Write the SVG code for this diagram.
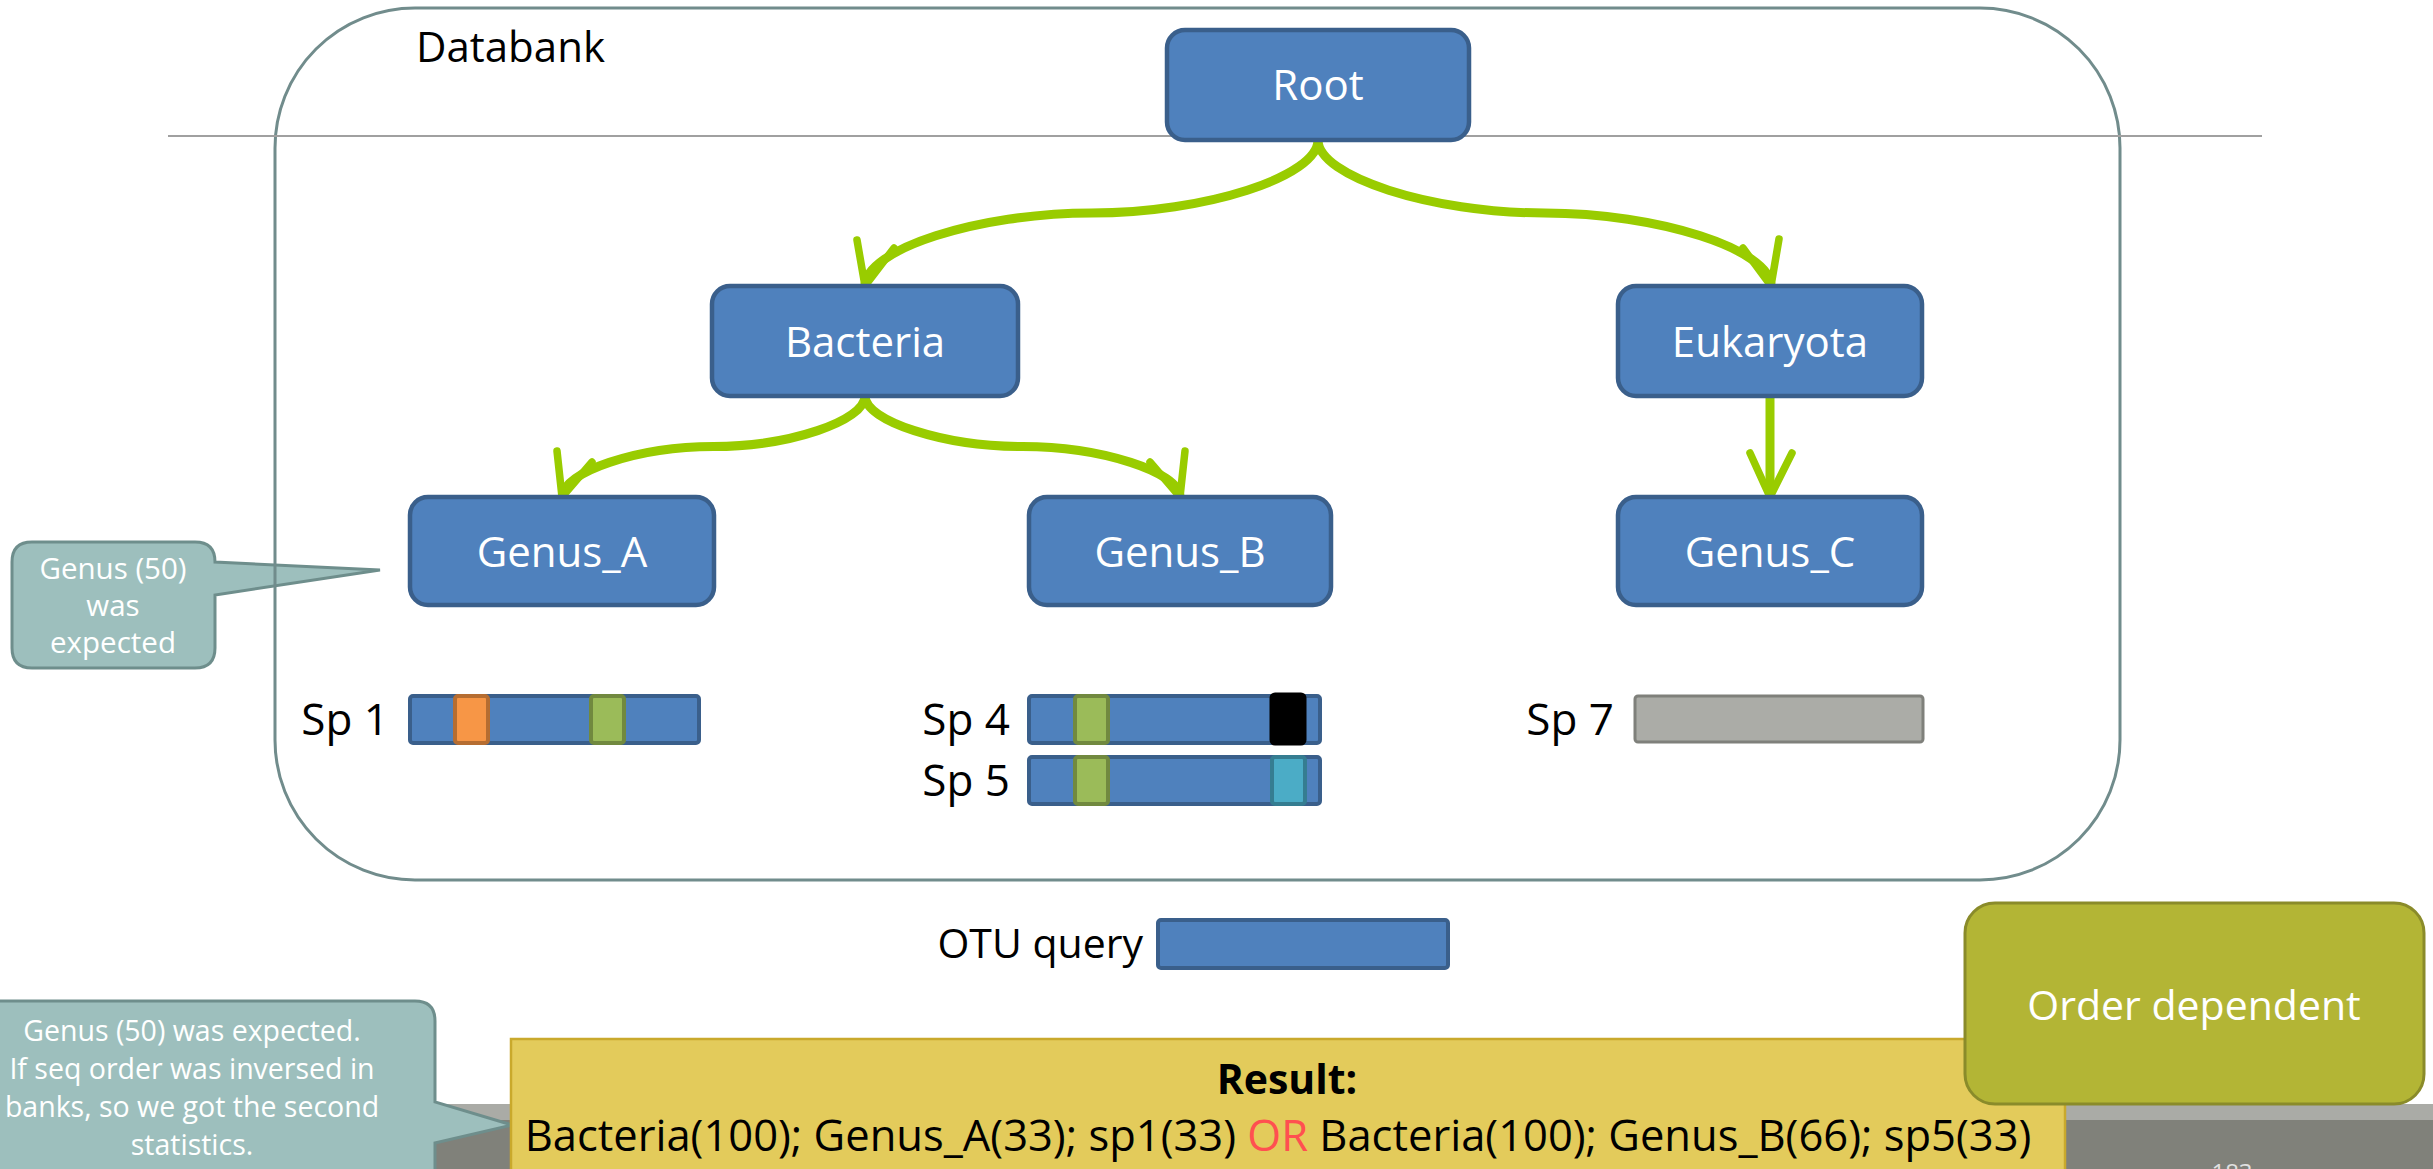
<svg xmlns="http://www.w3.org/2000/svg" width="2433" height="1169" viewBox="0 0 2433 1169">
<style>
text{font-family:"Open Sans","Liberation Sans",sans-serif}
.node rect{fill:#4F81BD;stroke:#3A5F8B;stroke-width:4.5}
.node text{fill:#FFFFFF;font-size:42px;text-anchor:middle}
.lbl{fill:#000000;font-size:44px;text-anchor:end}
.bar{fill:#4F81BD;stroke:#3A5F8B;stroke-width:4}
.orange{fill:#F79646;stroke:#B66D31;stroke-width:4}
.green{fill:#9BBB59;stroke:#71893F;stroke-width:4}
.teal{fill:#4BACC6;stroke:#357D91;stroke-width:4}
.blk{fill:#000000;stroke:#000000;stroke-width:3}
.conn{fill:none;stroke:#99CC00;stroke-width:9;stroke-linecap:round;stroke-linejoin:round}
.head{fill:none;stroke:#99CC00;stroke-width:7.5;stroke-linecap:round;stroke-linejoin:miter}
.callout{fill:#9DBFBD;stroke:#6E8E8C;stroke-width:3}
.ctext{fill:#FFFFFF;font-size:29.5px;text-anchor:middle}
.ctext2{fill:#FFFFFF;font-size:28.5px;text-anchor:middle}
</style>
<rect x="0" y="0" width="2433" height="1169" fill="#FFFFFF"/>

<g id="callout-genus">
<path class="callout" d="M 32,542 H 195 Q 215,542 215,562 L 380,570 L 215,595 V 648 Q 215,668 195,668 H 32 Q 12,668 12,648 V 562 Q 12,542 32,542 Z"/>
<text class="ctext" x="113" y="579">Genus (50)</text>
<text class="ctext" x="113" y="616">was</text>
<text class="ctext" x="113" y="653">expected</text>
</g>

<g id="databank">
<rect x="275" y="8" width="1845" height="872" rx="140" ry="140" fill="none" stroke="#718C8C" stroke-width="3"/>
<text x="416" y="62" font-size="42" fill="#000000">Databank</text>
</g>
<line id="divider" x1="168" y1="136" x2="2262" y2="136" stroke="#A0A0A0" stroke-width="2"/>

<g id="connectors">
<path class="conn" d="M 1318,140 C 1318,176.5 1205,213 1091.5,213 C 978,213 865,249.5 865,286"/>
<path class="head" d="M 857,240 L 865,286 L 894,248"/>
<path class="conn" d="M 1318,140 C 1318,176.5 1431,213 1544.5,213 C 1658,213 1771,249.5 1771,286"/>
<path class="head" d="M 1779,239 L 1771,286 L 1743,248"/>
<path class="conn" d="M 865,396 C 865,421 789,446.5 713.5,446.5 C 638,446.5 562,472 562,497"/>
<path class="head" d="M 557,451 L 562,497 L 592,462"/>
<path class="conn" d="M 865,396 C 865,421 944,446.5 1022.5,446.5 C 1101,446.5 1180,472 1180,497"/>
<path class="head" d="M 1185,451 L 1180,497 L 1150,462"/>
<path class="conn" d="M 1770,396 L 1770,497"/>
<path class="head" d="M 1750,453 L 1770,497 L 1792,453"/>
</g>

<g id="root" class="node"><rect x="1167" y="30" width="302" height="110" rx="18"/><text x="1318" y="100">Root</text></g>
<g id="bacteria" class="node"><rect x="712" y="286" width="306" height="110" rx="18"/><text x="865" y="357">Bacteria</text></g>
<g id="eukaryota" class="node"><rect x="1618" y="286" width="304" height="110" rx="18"/><text x="1770" y="357">Eukaryota</text></g>
<g id="genus-a" class="node"><rect x="410" y="497" width="304" height="108" rx="18"/><text x="562" y="567">Genus_A</text></g>
<g id="genus-b" class="node"><rect x="1029" y="497" width="302" height="108" rx="18"/><text x="1180" y="567">Genus_B</text></g>
<g id="genus-c" class="node"><rect x="1618" y="497" width="304" height="108" rx="18"/><text x="1770" y="567">Genus_C</text></g>

<g id="sp1">
<text class="lbl" x="389" y="735">Sp 1</text>
<rect class="bar" x="410" y="696" width="289" height="47" rx="3"/>
<rect class="orange" x="455" y="696" width="33" height="47" rx="3"/>
<rect class="green" x="591" y="696" width="33" height="47" rx="3"/>
</g>
<g id="sp4">
<text class="lbl" x="1010" y="735">Sp 4</text>
<rect class="bar" x="1029" y="696" width="291" height="47" rx="3"/>
<rect class="green" x="1075" y="696" width="33" height="47" rx="3"/>
<rect class="blk" x="1271" y="694" width="34" height="50" rx="4"/>
</g>
<g id="sp5">
<text class="lbl" x="1010" y="796">Sp 5</text>
<rect class="bar" x="1029" y="757" width="291" height="47" rx="3"/>
<rect class="green" x="1075" y="757" width="33" height="47" rx="3"/>
<rect class="teal" x="1272" y="757" width="33" height="47" rx="3"/>
</g>
<g id="sp7">
<text class="lbl" x="1614" y="735">Sp 7</text>
<rect x="1635" y="696" width="288" height="46" rx="3" fill="#ABACA7" stroke="#7F807B" stroke-width="3"/>
</g>
<g id="otu">
<text class="lbl" x="1143" y="958" style="font-size:41px">OTU query</text>
<rect class="bar" x="1158" y="920" width="290" height="48" rx="3"/>
</g>

<g id="footer">
<rect x="0" y="1104" width="2433" height="16" fill="#AAABA6"/>
<rect x="0" y="1120" width="2433" height="49" fill="#80817A"/>
<text x="2232" y="1181" font-size="24" fill="#E0E0E0" text-anchor="middle">183</text>
</g>

<g id="callout-order">
<path class="callout" d="M -20,1001 H 415 Q 435,1001 435,1021 V 1102 L 512,1125 L 435,1143 V 1190 H -20 Z"/>
<text class="ctext2" x="192" y="1041">Genus (50) was expected.</text>
<text class="ctext2" x="192" y="1079">If seq order was inversed in</text>
<text class="ctext2" x="192" y="1117">banks, so we got the second</text>
<text class="ctext2" x="192" y="1155">statistics.</text>
</g>

<g id="result">
<rect x="511" y="1039" width="1554" height="150" fill="#E3CB5B" stroke="#C9A92C" stroke-width="2.5"/>
<text x="1287" y="1094" font-size="41" font-weight="bold" text-anchor="middle" fill="#000000">Result:</text>
<text x="1278" y="1151" font-size="43.5" text-anchor="middle" fill="#000000">Bacteria(100); Genus_A(33); sp1(33) <tspan fill="#FF5050">OR</tspan> Bacteria(100); Genus_B(66); sp5(33)</text>
</g>

<g id="order-dependent">
<rect x="1965" y="903" width="459" height="201" rx="30" fill="#B3B535" stroke="#8A8B2A" stroke-width="3"/>
<text x="2194" y="1020" font-size="41" text-anchor="middle" fill="#FFFFFF">Order dependent</text>
</g>
</svg>
